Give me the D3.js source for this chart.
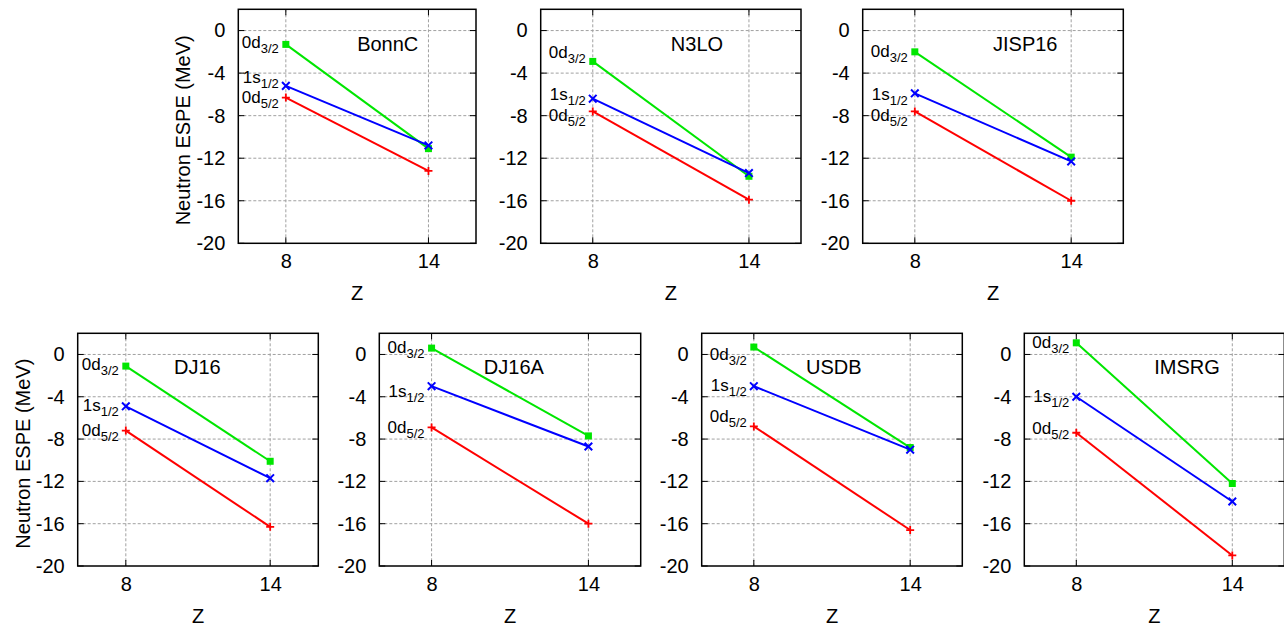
<!DOCTYPE html>
<html>
<head>
<meta charset="utf-8">
<script src="https://cdn.jsdelivr.net/npm/d3@7"></script>
<style>
  html, body { margin: 0; padding: 0; background: #fff; }
  svg { display: block; font-family: "Liberation Sans", Arial, Helvetica, sans-serif; }
</style>
</head>
<body>
<svg id="chart" width="1284" height="627"></svg>
<script>
// ---------------- DATA ----------------
const models = ["BonnC", "N3LO", "JISP16", "DJ16", "DJ16A", "USDB", "IMSRG"];
const zValues = [8, 14];
// neutron ESPE (MeV) at Z = 8 and Z = 14
const d52 = [[-6.3, -13.2], [-7.6, -15.9], [-7.6, -16.0], [-7.2, -16.3], [-6.9, -16.0], [-6.8, -16.6], [-7.4, -19.0]];
const s12 = [[-5.2, -10.8], [-6.4, -13.4], [-5.9, -12.3], [-4.9, -11.7], [-3.0, -8.7], [-3.0, -9.0], [-4.0, -13.9]];
const d32 = [[-1.3, -11.1], [-2.9, -13.7], [-2.0, -11.9], [-1.1, -10.1], [0.6, -7.7], [0.7, -8.8], [1.1, -12.2]];
// orbital label anchors (data y at Z = 8)
const labD32 = [-1.1, -2.0, -1.9, -0.9, 0.7, 0.0, 1.15];
const labS12 = [-4.4, -6.0, -6.0, -4.8, -3.5, -2.9, -3.9];
const labD52 = [-6.2, -7.9, -7.9, -7.1, -6.9, -5.8, -7.0];
// title anchors (data x, data y)
const titleX = [11, 11, 11, 10, 10, 10, 11];
const titleY = [-1.2, -1.2, -1.2, -1.2, -1.2, -1.2, -1.2];
const yTicks = [0, -4, -8, -12, -16, -20];
const xTicks = [8, 14];
const yDomain = [-20, 2];
const xDomain = [6, 16];

// ---------------- LAYOUT ----------------
const frames = [
  {x0: 238.3, x1: 476.0, y0: 9.3, y1: 243.3, ylab: true},
  {x0: 540.7, x1: 801.0, y0: 9.3, y1: 243.3, ylab: false},
  {x0: 862.7, x1: 1123.3, y0: 9.3, y1: 243.3, ylab: false},
  {x0: 77.7, x1: 318.3, y0: 333.3, y1: 566.0, ylab: true},
  {x0: 379.3, x1: 640.7, y0: 333.3, y1: 566.0, ylab: false},
  {x0: 701.7, x1: 962.3, y0: 333.3, y1: 566.0, ylab: false},
  {x0: 1024.3, x1: 1284.3, y0: 333.3, y1: 566.0, ylab: false}
];
const colors = {d52: "#ff0000", s12: "#0000ff", d32: "#00e600"};

const svg = d3.select("#chart");

models.forEach((name, i) => {
  const f = frames[i];
  const x = d3.scaleLinear().domain(xDomain).range([f.x0, f.x1]);
  const y = d3.scaleLinear().domain(yDomain).range([f.y1, f.y0]);
  const g = svg.append("g");

  // grid
  g.selectAll(".gy").data(yTicks.filter(t => t > yDomain[0])).enter().append("line")
    .attr("x1", f.x0).attr("x2", f.x1).attr("y1", d => y(d)).attr("y2", d => y(d))
    .attr("stroke", "#a0a0a0").attr("stroke-width", 1).attr("stroke-dasharray", "3,2");
  g.selectAll(".gx").data(xTicks).enter().append("line")
    .attr("x1", d => x(d)).attr("x2", d => x(d)).attr("y1", f.y0).attr("y2", f.y1)
    .attr("stroke", "#a0a0a0").attr("stroke-width", 1).attr("stroke-dasharray", "3,2");

  // inner tick marks
  const tl = 6;
  yTicks.forEach(t => {
    g.append("line").attr("x1", f.x0).attr("x2", f.x0 + tl).attr("y1", y(t)).attr("y2", y(t)).attr("stroke", "#000");
    g.append("line").attr("x1", f.x1).attr("x2", f.x1 - tl).attr("y1", y(t)).attr("y2", y(t)).attr("stroke", "#000");
  });
  xTicks.forEach(t => {
    g.append("line").attr("x1", x(t)).attr("x2", x(t)).attr("y1", f.y1).attr("y2", f.y1 - tl).attr("stroke", "#000");
    g.append("line").attr("x1", x(t)).attr("x2", x(t)).attr("y1", f.y0).attr("y2", f.y0 + tl).attr("stroke", "#000");
  });

  // axes labels via d3 axes
  const ya = g.append("g").attr("transform", `translate(${f.x0},0)`)
    .call(d3.axisLeft(y).tickValues(yTicks).tickSize(0).tickPadding(13).tickFormat(d => String(d)));
  ya.select(".domain").remove();
  ya.selectAll("text").attr("font-size", 20).attr("font-family", null).attr("fill", "#000");
  const xa = g.append("g").attr("transform", `translate(0,${f.y1})`)
    .call(d3.axisBottom(x).tickValues(xTicks).tickSize(0).tickPadding(11).tickFormat(d => String(d)));
  xa.select(".domain").remove();
  xa.selectAll("text").attr("font-size", 20).attr("font-family", null).attr("fill", "#000");

  // frame
  g.append("rect").attr("x", f.x0).attr("y", f.y0).attr("width", f.x1 - f.x0).attr("height", f.y1 - f.y0)
    .attr("fill", "none").attr("stroke", "#000").attr("stroke-width", 1.5);

  // axis titles
  g.append("text").attr("x", (f.x0 + f.x1) / 2).attr("y", f.y1 + 57)
    .attr("text-anchor", "middle").attr("font-size", 20).text("Z");
  if (f.ylab) {
    const cy = (f.y0 + f.y1) / 2 + 4;
    g.append("text").attr("transform", `translate(${f.x0 - 55 + 7},${cy}) rotate(-90)`)
      .attr("text-anchor", "middle").attr("font-size", 20).text("Neutron ESPE (MeV)");
  }

  // panel title
  g.append("text").attr("x", x(titleX[i])).attr("y", y(titleY[i]) + 7.2)
    .attr("font-size", 20).text(name);

  // series
  const series = [
    {key: "d32", vals: d32[i], mark: "square"},
    {key: "s12", vals: s12[i], mark: "cross"},
    {key: "d52", vals: d52[i], mark: "plus"}
  ];
  const line = d3.line().x((d, k) => x(zValues[k])).y(d => y(d));
  series.forEach(s => {
    const c = colors[s.key];
    g.append("path").attr("d", line(s.vals)).attr("fill", "none").attr("stroke", c).attr("stroke-width", 2);
    s.vals.forEach((v, k) => {
      const px = x(zValues[k]), py = y(v);
      if (s.mark === "square") {
        g.append("rect").attr("x", px - 3.5).attr("y", py - 3.5).attr("width", 7).attr("height", 7).attr("fill", c);
      } else if (s.mark === "cross") {
        const r = 3.8;
        g.append("path").attr("d", `M${px - r},${py - r}L${px + r},${py + r}M${px - r},${py + r}L${px + r},${py - r}`)
          .attr("stroke", c).attr("stroke-width", 2);
      } else {
        const r = 4;
        g.append("path").attr("d", `M${px - r},${py}L${px + r},${py}M${px},${py - r}L${px},${py + r}`)
          .attr("stroke", c).attr("stroke-width", 1.8);
      }
    });
  });

  // orbital labels
  const labs = [
    {main: "0d", sub: "3/2", v: labD32[i]},
    {main: "1s", sub: "1/2", v: labS12[i]},
    {main: "0d", sub: "5/2", v: labD52[i]}
  ];
  labs.forEach(l => {
    const t = g.append("text").attr("x", x(8) - 7).attr("y", y(l.v) + 6)
      .attr("text-anchor", "end").attr("font-size", 17).attr("fill", "#000");
    t.append("tspan").text(l.main);
    t.append("tspan").attr("font-size", 13).attr("dy", 5).text(l.sub);
  });
});
</script>
</body>
</html>
